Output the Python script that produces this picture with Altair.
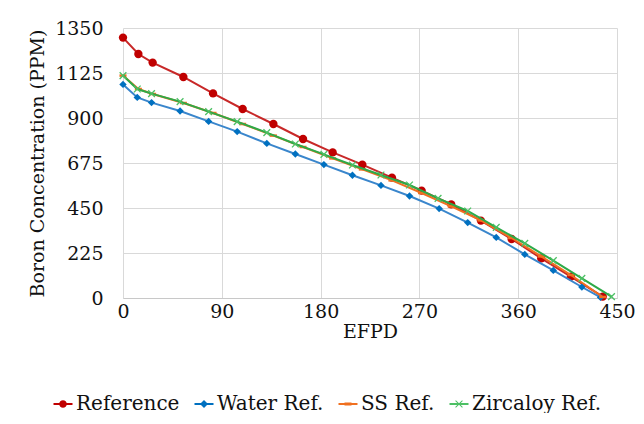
import altair as alt
import pandas as pd

# ---- data ----
series_names = ["Reference", "Water Ref.", "SS Ref.", "Zircaloy Ref."]

ref_x = [0, 14, 27, 55, 82, 109, 137, 164, 191, 218, 245, 272, 299, 326, 354, 381, 408, 437]
ref_y = [1302, 1220, 1177, 1105, 1023, 945, 870, 795, 728, 667, 602, 537, 468, 387, 295, 198, 107, 7]

water_x = [0, 13, 26, 52, 78, 104, 131, 157, 183, 209, 235, 261, 288, 314, 340, 366, 392, 418, 435]
water_y = [1068, 1003, 977, 935, 883, 832, 773, 720, 667, 614, 563, 510, 447, 377, 303, 218, 138, 55, 3]

ss_x = [0, 14, 27, 55, 82, 109, 137, 164, 191, 218, 245, 272, 299, 326, 354, 381, 408, 437]
ss_y = [1112, 1045, 1020, 975, 925, 870, 812, 755, 698, 643, 588, 525, 458, 388, 300, 208, 115, 5]

zirc_x = [0, 13, 26, 52, 78, 104, 131, 157, 183, 209, 235, 261, 287, 314, 340, 366, 392, 418, 445]
zirc_y = [1112, 1045, 1022, 982, 932, 882, 827, 770, 718, 665, 615, 565, 498, 435, 353, 273, 187, 98, 7]

x_ticks = [0, 90, 180, 270, 360, 450]
y_ticks = [0, 225, 450, 675, 900, 1125, 1350]

marker_colors = ["#C00000", "#0070C0", "#F07020", "#4CC064"]
line_colors = ["#C82828", "#3A86CC", "#F07020", "#2DAA48"]

# ---- long table ----
rows = []
for name, xs, ys in zip(series_names, [ref_x, water_x, ss_x, zirc_x], [ref_y, water_y, ss_y, zirc_y]):
    for xv, yv in zip(xs, ys):
        rows.append({"series": name, "efpd": xv, "boron": yv})
df = pd.DataFrame(rows)

FONT = "DejaVu Serif"

x_enc = alt.X("efpd:Q", title="EFPD",
              scale=alt.Scale(domain=[0, 450], nice=False, zero=False),
              axis=alt.Axis(values=x_ticks, format="d", labelFlush=False, labelPadding=4, titlePadding=1))
y_enc = alt.Y("boron:Q", title="Boron Concentration (PPM)",
              scale=alt.Scale(domain=[0, 1350], nice=False),
              axis=alt.Axis(values=y_ticks, format="d", labelFlush=False, labelPadding=20, titlePadding=7))

base = alt.Chart(df)


def sub(name):
    return base.transform_filter(alt.datum.series == name)


layers = []
layers.append(sub("Reference").mark_line(color=line_colors[0], strokeWidth=2).encode(x=x_enc, y=y_enc))
layers.append(sub("Reference").mark_point(shape="circle", filled=True, size=70, opacity=1,
                                          color=marker_colors[0]).encode(x=x_enc, y=y_enc))
layers.append(sub("Water Ref.").mark_line(color=line_colors[1], strokeWidth=2).encode(x=x_enc, y=y_enc))
layers.append(sub("Water Ref.").mark_point(shape="diamond", filled=True, size=55, opacity=1,
                                           color=marker_colors[1]).encode(x=x_enc, y=y_enc))
layers.append(sub("SS Ref.").mark_line(color=line_colors[2], strokeWidth=2).encode(x=x_enc, y=y_enc))
layers.append(sub("SS Ref.").mark_point(shape="M-1,0L1,0", filled=False, size=50, strokeWidth=2.5,
                                        opacity=1, color=marker_colors[2]).encode(x=x_enc, y=y_enc))
layers.append(sub("Zircaloy Ref.").mark_line(color=line_colors[3], strokeWidth=2).encode(x=x_enc, y=y_enc))
layers.append(sub("Zircaloy Ref.").mark_point(shape="M-1,-1L1,1M-1,1L1,-1", filled=False, size=45,
                                              strokeWidth=1.3, opacity=1,
                                              color=marker_colors[3]).encode(x=x_enc, y=y_enc))

# legend-only layer (invisible marks); legend symbols = line + marker
seg = "M-0.95,-0.1H0.95V0.1H-0.95Z"
legend_paths = [
    seg + "M-0.38,0A0.38,0.38,0,1,1,0.38,0A0.38,0.38,0,1,1,-0.38,0Z",
    seg + "M0,-0.4L0.4,0L0,0.4L-0.4,0Z",
    seg + "M-0.35,-0.14H0.35V0.14H-0.35Z",
    seg + "M-0.38,-0.31L-0.31,-0.38L0.38,0.31L0.31,0.38Z"
          "M0.31,-0.38L0.38,-0.31L-0.31,0.38L-0.38,0.31Z",
]
leg = alt.Legend(title=None, orient="none", direction="horizontal", columns=4,
                 legendX=-70, legendY=366, symbolSize=400, symbolOpacity=1,
                 symbolStrokeWidth=0, labelFontSize=20, labelFont=FONT,
                 labelColor="#111111", labelOffset=3, columnPadding=14,
                 padding=0, labelLimit=300)
layers.append(base.mark_point(filled=True, opacity=0).encode(
    x=x_enc, y=y_enc,
    color=alt.Color("series:N", scale=alt.Scale(domain=series_names, range=marker_colors),
                    sort=series_names, legend=leg),
    shape=alt.Shape("series:N", scale=alt.Scale(domain=series_names, range=legend_paths),
                    sort=series_names, legend=leg),
))

chart = alt.layer(*layers).properties(
    width=494, height=270,
    padding={"left": 115, "top": 20, "right": 19, "bottom": 115},
    autosize=alt.AutoSizeParams(type="none"),
    background="white",
).configure(font=FONT).configure_view(stroke=None).configure_axis(
    labelFont=FONT, titleFont=FONT, labelFontSize=19, titleFontSize=19,
    labelColor="#111111", titleColor="#111111", titleFontWeight="normal",
    gridColor="#D9D9D9", gridWidth=1, ticks=False, tickSize=0,
).configure_axisX(domainColor="#C8C8C8", domainWidth=1).configure_axisY(domain=False)

chart.save("out.html", embed_options={"renderer": "svg", "actions": False})
